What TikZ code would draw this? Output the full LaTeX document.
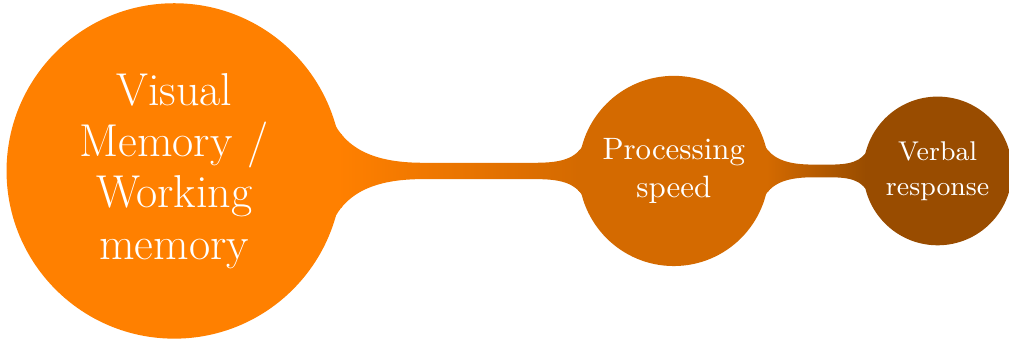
\documentclass[tikz,border=0pt]{standalone}
\usetikzlibrary{mindmap,positioning}

\begin{document}
\begin{tikzpicture}[
mindmap,
every node/.style={concept, text=white},
rootbox/.style={root concept, concept color=orange, text width=2.6cm, font=\fontsize{15.8}{17.6}\selectfont},
procbox/.style={level 1 concept, concept color=orange!83!black, font=\fontsize{10.6}{13.2}\selectfont},
verbbox/.style={level 2 concept, concept color=orange!60!black, font=\fontsize{9.3}{11.9}\selectfont}
]
\useasboundingbox (-2.1,-2.03) rectangle (10.06,2.06);
\node[rootbox] (vis) {Visual Memory / Working memory};
\node[procbox, right=0cm of vis.center, anchor=center, xshift=6.02cm] (proc) {Processing speed};
\node[verbbox, right=0cm of proc.center, anchor=center, xshift=3.18cm] (verb) {Verbal response};

\path (vis) to[circle connection bar switch color=from (orange) to (orange!83!black)] (proc);
\path (proc) to[circle connection bar switch color=from (orange!83!black) to (orange!60!black)] (verb);
\end{tikzpicture}
\end{document}
